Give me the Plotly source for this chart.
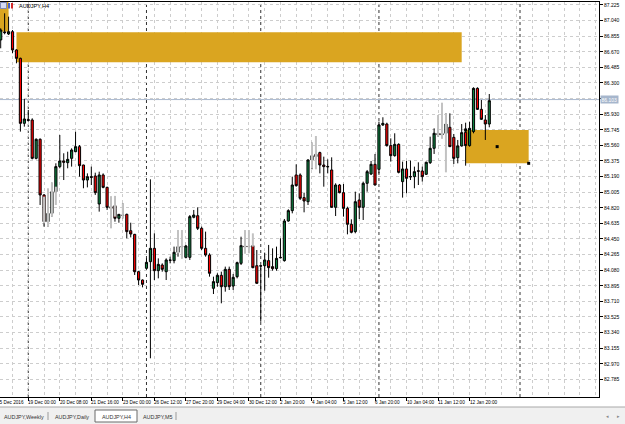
import plotly.graph_objects as go

# ---------------- data (AUDJPY H4) ----------------
open_ = [86.810, 86.905, 86.881, 86.908, 86.691, 86.592, 85.821, 85.865, 85.861, 85.406,
         85.632, 84.972, 84.655, 84.754, 85.011, 85.308, 85.375, 85.355, 85.406, 85.485,
         85.545, 85.327, 85.149, 85.189, 85.197, 84.865, 85.209, 85.062, 84.833, 84.845,
         84.695, 84.734, 84.742, 84.548, 84.505, 84.062, 83.963, 84.102, 84.181, 84.339,
         84.074, 84.141, 84.062, 84.201, 84.193, 84.292, 84.359, 84.232, 84.232, 84.707,
         84.726, 84.576, 84.339, 84.260, 83.865, 83.932, 84.019, 83.884, 84.090, 83.892,
         84.003, 84.161, 84.367, 84.363, 84.371, 84.133, 84.133, 84.133, 84.193, 84.122,
         84.098, 84.232, 84.193, 84.663, 84.786, 85.209, 85.209, 84.940, 84.892, 85.387,
         85.454, 85.474, 85.327, 85.310, 85.268, 84.825, 85.090, 84.999, 84.813, 84.624,
         84.537, 84.912, 84.825, 85.110, 85.220, 85.335, 85.276, 85.802, 85.813, 85.557,
         85.438, 85.572, 85.130, 85.280, 85.191, 85.189, 85.258, 85.256, 85.217, 85.355,
         85.525, 85.703, 85.683, 85.703, 85.774, 85.655, 85.414, 85.553, 85.715, 85.557,
         85.723, 86.236, 85.987, 85.861, 85.813]
high = [86.948, 87.126, 87.086, 86.928, 86.700, 86.600, 86.110, 85.980, 85.881, 85.643,
        85.643, 84.980, 84.760, 85.118, 85.347, 85.683, 85.466, 85.485, 85.525, 85.723,
        85.564, 85.330, 85.228, 85.308, 85.236, 85.248, 85.228, 85.070, 84.952, 84.960,
        84.746, 84.873, 84.750, 84.643, 84.510, 84.070, 83.970, 84.220, 85.157, 84.517,
        84.220, 84.161, 84.220, 84.240, 84.359, 84.379, 84.379, 84.379, 84.734, 84.794,
        84.825, 84.596, 84.537, 84.280, 84.003, 84.043, 84.062, 84.122, 84.122, 84.035,
        84.181, 84.477, 84.379, 84.379, 84.379, 84.319, 84.135, 84.288, 84.379, 84.339,
        84.359, 84.458, 84.687, 84.802, 85.189, 85.335, 85.228, 84.999, 85.394, 85.592,
        85.500, 85.485, 85.426, 85.394, 85.418, 85.110, 85.102, 85.102, 84.833, 84.683,
        85.011, 84.991, 85.130, 85.268, 85.375, 85.458, 85.841, 85.893, 85.829, 85.643,
        85.703, 85.584, 85.367, 85.375, 85.379, 85.308, 85.359, 85.308, 85.367, 85.663,
        85.762, 85.762, 85.720, 85.940, 85.940, 85.695, 85.624, 85.813, 85.829, 85.841,
        86.248, 86.248, 86.098, 85.920, 86.169]
low = [86.711, 86.877, 86.869, 86.652, 86.533, 85.723, 85.782, 85.841, 85.394, 85.394,
       84.853, 84.596, 84.596, 84.715, 85.000, 85.288, 85.149, 85.288, 85.308, 85.480,
       85.189, 85.051, 85.062, 85.090, 84.972, 84.774, 85.051, 84.794, 84.800, 84.655,
       84.643, 84.695, 84.458, 84.469, 84.023, 83.904, 83.876, 84.095, 83.035, 83.963,
       83.983, 84.062, 83.963, 84.161, 84.161, 84.240, 84.220, 84.220, 84.201, 84.695,
       84.556, 84.319, 84.240, 84.003, 83.797, 83.884, 83.687, 83.825, 83.845, 83.845,
       83.983, 84.141, 84.280, 84.339, 84.102, 83.920, 83.469, 83.837, 83.991, 84.074,
       84.074, 84.220, 84.181, 84.655, 84.754, 85.070, 84.912, 84.766, 84.853, 85.276,
       85.400, 85.228, 85.070, 85.228, 84.820, 84.722, 84.991, 84.715, 84.505, 84.517,
       84.517, 84.687, 84.675, 85.011, 85.209, 85.085, 85.228, 85.790, 85.545, 85.367,
       85.426, 85.228, 84.940, 84.991, 85.149, 85.051, 85.090, 85.130, 85.209, 85.339,
       85.458, 85.663, 85.643, 85.695, 85.540, 85.339, 85.347, 85.545, 85.319, 85.545,
       85.703, 85.980, 85.861, 85.624, 85.774]
close = [86.928, 86.897, 86.908, 86.691, 86.592, 85.821, 85.873, 85.857, 85.406, 85.632,
         84.972, 84.655, 84.754, 85.011, 85.308, 85.375, 85.359, 85.394, 85.505, 85.545,
         85.319, 85.149, 85.189, 85.181, 84.999, 85.209, 85.062, 84.825, 84.813, 84.695,
         84.742, 84.730, 84.537, 84.509, 84.062, 83.963, 83.912, 84.173, 84.339, 84.074,
         84.149, 84.090, 84.201, 84.197, 84.292, 84.359, 84.355, 84.367, 84.715, 84.734,
         84.576, 84.339, 84.260, 84.043, 83.944, 84.019, 83.884, 84.090, 83.884, 83.995,
         84.169, 84.371, 84.355, 84.359, 84.110, 83.924, 84.129, 84.201, 84.110, 84.098,
         84.220, 84.228, 84.663, 84.786, 85.090, 85.082, 84.932, 84.900, 85.387, 85.438,
         85.426, 85.327, 85.308, 85.306, 84.825, 85.090, 84.999, 84.813, 84.624, 84.529,
         84.892, 84.825, 85.110, 85.248, 85.335, 85.090, 85.802, 85.821, 85.557, 85.438,
         85.572, 85.240, 85.280, 85.169, 85.187, 85.248, 85.254, 85.189, 85.359, 85.525,
         85.703, 85.683, 85.700, 85.813, 85.545, 85.406, 85.553, 85.711, 85.557, 85.762,
         86.236, 85.987, 85.869, 85.813, 86.090]
bars = list(range(len(open_)))

# light-grey ghost wicks of an overlaid series
ghost_bar = [11, 12, 13, 14, 28, 29, 31, 45, 46, 62, 63, 64, 79, 80, 111, 112, 113]
ghost_high = [84.952, 85.051, 85.118, 85.070, 84.952, 84.960, 84.873, 84.556, 84.556,
              84.556, 84.556, 84.517, 85.592, 85.671, 85.920, 86.066, 85.940]
ghost_low = [84.636, 84.596, 84.715, 84.853, 84.576, 84.715, 84.695, 84.280, 84.220,
             84.280, 84.280, 84.359, 85.288, 85.276, 85.663, 85.643, 85.240]

# time axis labels (bar index of each label)
tick_bars = [-1, 7, 15, 23, 31, 39, 47, 55, 63, 71, 79, 87, 95, 103, 111, 119]
tick_labels = ["15 Dec 2016", "19 Dec 00:00", "20 Dec 08:00", "21 Dec 16:00",
               "23 Dec 00:00", "26 Dec 12:00", "27 Dec 20:00", "29 Dec 04:00",
               "30 Dec 12:00", "2 Jan 20:00", "4 Jan 04:00", "5 Jan 12:00",
               "6 Jan 20:00", "10 Jan 04:00", "11 Jan 12:00", "12 Jan 20:00"]

# price axis labels
price_labels = ["82.785", "82.970", "83.155", "83.340", "83.525", "83.710", "83.895",
                "84.080", "84.265", "84.450", "84.635", "84.820", "85.005", "85.190",
                "85.375", "85.560", "85.745", "85.930", "86.115", "86.300", "86.485",
                "86.670", "86.855", "87.040", "87.225"]
price_ticks = [float(s) for s in price_labels]

bid_price = 86.103
week_separators = [7, 37, 66, 96]
vline_bar = 131.8

# zones (rectangles): [bar0, bar1, price_low, price_high]
zone_top_left = [-3, 2, 86.908, 87.40]
zone_upper = [4, 117, 86.545, 86.901]
zone_lower = [118, 134, 85.347, 85.742]
anchor_bars = [118, 126, 134]
anchor_prices = [85.742, 85.545, 85.347]

symbol_title = "AUDJPY,H4"
tabs = ["AUDJPY,Weekly", "AUDJPY,Daily", "AUDJPY,H4", "AUDJPY,M5"]

# ---------------- layout geometry ----------------
W, H = 625, 424
ML, MR, MT, MB = 0, 26, 2, 27
PW, PH = W - ML - MR, H - MT - MB
X_RANGE = [-0.178, 151.85]
Y_RANGE = [82.576, 87.260]
FONT = "Liberation Sans"
GOLD = "#DAA520"
GRID = "#cdcdcd"


def pxx(px):
    return (px - ML) / PW


def pxy(py):
    return (MT + PH - py) / PH


def bar_to_paper(b):
    # same linear mapping as the x axis, so labels outside the range still show
    return (b - X_RANGE[0]) / (X_RANGE[1] - X_RANGE[0])


# the bid label covers the regular price label next to it
shown_price_labels = ["" if abs(v - bid_price) < 0.1 else s
                      for v, s in zip(price_ticks, price_labels)]

fig = go.Figure()

gx, gy = [], []
for b, hi, lo in zip(ghost_bar, ghost_high, ghost_low):
    gx += [b, b, None]
    gy += [hi, lo, None]
fig.add_trace(go.Scatter(x=gx, y=gy, mode="lines",
                         line=dict(color="#c2c2c2", width=2),
                         hoverinfo="skip", showlegend=False))

fig.add_trace(go.Candlestick(
    x=bars, open=open_, high=high, low=low, close=close,
    increasing=dict(line=dict(color="#000000", width=1), fillcolor="#0e8040"),
    decreasing=dict(line=dict(color="#000000", width=1), fillcolor="#ff0000"),
    whiskerwidth=0, showlegend=False, hoverinfo="skip"))

fig.add_trace(go.Scatter(x=anchor_bars, y=anchor_prices, mode="markers",
                         marker=dict(symbol="square", size=3, color="#000000"),
                         hoverinfo="skip", showlegend=False))

shapes = []
for z in (zone_top_left, zone_upper, zone_lower):
    shapes.append(dict(type="rect", xref="x", yref="y", x0=z[0], x1=z[1],
                       y0=z[2], y1=z[3], fillcolor=GOLD, line=dict(width=0),
                       layer="between"))
for b in week_separators + [vline_bar]:
    shapes.append(dict(type="line", xref="x", yref="paper", x0=b, x1=b, y0=0, y1=1,
                       line=dict(color="#333333", width=1, dash="dot"), layer="between"))
shapes.append(dict(type="line", xref="paper", yref="y", x0=0, x1=1,
                   y0=bid_price, y1=bid_price,
                   line=dict(color="#a9b8ce", width=1), layer="between"))

# top-left icon
shapes.append(dict(type="rect", xref="paper", yref="paper", x0=pxx(0.5), x1=pxx(6.5),
                   y0=pxy(8.5), y1=pxy(2.5), fillcolor="#d6dbf2",
                   line=dict(color="#7d89b8", width=1)))
shapes.append(dict(type="rect", xref="paper", yref="paper", x0=pxx(8), x1=pxx(10),
                   y0=pxy(8.5), y1=pxy(3), fillcolor="#4a63c8", line=dict(width=0)))
shapes.append(dict(type="rect", xref="paper", yref="paper", x0=pxx(11), x1=pxx(13),
                   y0=pxy(8.5), y1=pxy(3), fillcolor="#d42a2a", line=dict(width=0)))

# tab bar
shapes.append(dict(type="rect", xref="paper", yref="paper", x0=pxx(-2), x1=pxx(W + 2),
                   y0=pxy(H + 2), y1=pxy(407), fillcolor="#f0f0f0",
                   line=dict(color="#a8a8a8", width=1)))
shapes.append(dict(type="rect", xref="paper", yref="paper", x0=pxx(95), x1=pxx(137),
                   y0=pxy(422), y1=pxy(410), fillcolor="#ffffff",
                   line=dict(color="#6a6a6a", width=1)))
for sx in (48, 176):
    shapes.append(dict(type="line", xref="paper", yref="paper", x0=pxx(sx), x1=pxx(sx),
                       y0=pxy(420), y1=pxy(412), line=dict(color="#9a9a9a", width=1)))

annotations = []
for b, t in zip(tick_bars, tick_labels):
    annotations.append(dict(x=bar_to_paper(b), xref="paper", y=pxy(402.5), yref="paper",
                            text=t, showarrow=False, xanchor="left", yanchor="middle",
                            xshift=-1, borderpad=0,
                            font=dict(family=FONT, size=4.7, color="#000000")))
annotations.append(dict(x=1, xref="paper", y=bid_price, yref="y", text="86.103",
                        showarrow=False, xanchor="left", yanchor="middle", xshift=1,
                        bgcolor="#a6b6cc", borderpad=0.5,
                        font=dict(family=FONT, size=5, color="#ffffff")))
annotations.append(dict(x=pxx(16.5), xref="paper", y=pxy(5.5), yref="paper",
                        text=symbol_title, showarrow=False, xanchor="left",
                        yanchor="middle", font=dict(family=FONT, size=5.6, color="#000000")))
tab_x = [1.5, 53, 100, 141]
for tx, t in zip(tab_x, tabs):
    annotations.append(dict(x=pxx(tx), xref="paper", y=pxy(416.5), yref="paper", text=t,
                            showarrow=False, xanchor="left", yanchor="middle",
                            font=dict(family=FONT, size=5.4, color="#333333")))
for ax_, sym in ((607, "\u25C2"), (618, "\u25B8")):
    annotations.append(dict(x=pxx(ax_), xref="paper", y=pxy(416), yref="paper", text=sym,
                            showarrow=False, xanchor="center", yanchor="middle",
                            font=dict(family="DejaVu Sans", size=5, color="#888888")))

grid_bars = list(range(-1, 153, 4))

fig.update_layout(
    width=W, height=H, template="none",
    margin=dict(l=ML, r=MR, t=MT, b=MB, pad=0),
    paper_bgcolor="#ffffff", plot_bgcolor="#ffffff",
    font=dict(family=FONT, size=5, color="#000000"),
    showlegend=False, hovermode=False, dragmode=False,
    boxgap=0.22,
    shapes=shapes, annotations=annotations,
    xaxis=dict(range=X_RANGE, tickmode="array", tickvals=tick_bars,
               showticklabels=False, ticks="outside", ticklen=3, tickcolor="#000000",
               showgrid=True, gridcolor=GRID, griddash="dot", gridwidth=1,
               minor=dict(tickmode="array", tickvals=grid_bars, showgrid=True,
                          gridcolor=GRID, griddash="dot", gridwidth=1, ticks=""),
               showline=True, linecolor="#000000", linewidth=1, mirror=True,
               zeroline=False, rangeslider=dict(visible=False), fixedrange=True),
    yaxis=dict(range=Y_RANGE, side="right", tickmode="array", tickvals=price_ticks,
               ticktext=shown_price_labels, ticks="outside", ticklen=3,
               tickcolor="#000000",
               tickfont=dict(family=FONT, size=5, color="#000000"),
               showgrid=True, gridcolor=GRID, griddash="dot", gridwidth=1,
               showline=True, linecolor="#000000", linewidth=1,
               zeroline=False, fixedrange=True),
)

fig.write_html("out.html", config={"displayModeBar": False, "staticPlot": True})
